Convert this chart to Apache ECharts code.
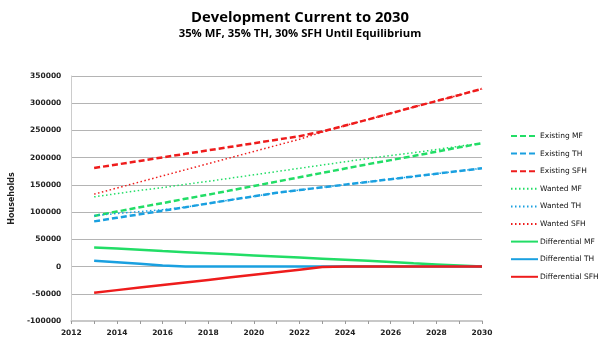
<!DOCTYPE html>
<html><head><meta charset="utf-8">
<script src="https://cdn.jsdelivr.net/npm/echarts@6/dist/echarts.min.js"></script>
<style>html,body{margin:0;padding:0;background:#fff}#c{width:600px;height:342px}</style>
</head><body><div id="c"></div>
<script>
const years = [2013,2014,2015,2016,2017,2018,2019,2020,2021,2022,2023,2024,2025,2026,2027,2028,2029,2030];
const existingMF = [93000,101000,109000,116500,124500,132000,140000,148000,156000,164000,172000,180000,188000,195500,203000,211000,219000,226500];
const existingTH = [83000,89500,96000,102500,109000,116000,122500,129000,135500,140500,145500,150500,155500,160500,165500,170500,175500,180500];
const existingSFH = [181000,187500,194000,200500,207000,213500,220000,226500,233000,239500,248000,259000,270000,281500,293000,304000,315000,326500];
const wantedMF = [128000,134000,140000,145000,151000,156500,162500,168500,174500,180500,186500,192500,198500,204000,209000,215000,221000,226500];
const wantedTH = [93500,97500,101000,104500,109000,116000,122500,129000,135500,140500,145500,150500,155500,160500,165500,170500,175500,180500];
const wantedSFH = [133000,144200,155400,166600,177800,189000,200200,211400,222600,233800,247000,259000,270000,281500,293000,304000,315000,326500];
const diffMF = [35000,33000,31000,28500,26500,24500,22500,20500,18500,16500,14500,12500,10500,8500,6000,4000,2000,0];
const diffTH = [10500,8000,5000,2000,0,0,0,0,0,0,0,0,0,0,0,0,0,0];
const diffSFH = [-48000,-43300,-38600,-33900,-29200,-24500,-19800,-15100,-10400,-5700,-1000,0,0,0,0,0,0,0];
const yTicks = {min:-100000, max:350000, interval:50000};
const xTicks = {min:2012, max:2030, interval:2};

const G='#22dd66', B='#1aa0e0', R='#ee1c1c';
function pts(v){ return years.map((y,i)=>[y,v[i]]); }
function ser(name, v, color, kind){
  const ls = {color:color};
  if(kind==='dash'){ ls.width=2.5; ls.type=[6,3]; }
  else if(kind==='dot'){ ls.width=1.5; ls.type=[1.5,2.5]; }
  else { ls.width=2.5; ls.type='solid'; }
  return {name:name, type:'line', data:pts(v), symbol:'none', showSymbol:false, itemStyle:{color:color}, lineStyle:ls, z: kind==='solid'?3:(kind==='dot'?4:2), animation:false};
}
const chart = echarts.init(document.getElementById('c'), null, {renderer:'canvas'});
const lab = {fontFamily:'DejaVu Sans', fontSize:7.5, color:'#222', fontWeight:'bold'};
chart.setOption({
  animation:false,
  title:{text:'Development Current to 2030', subtext:'35% MF, 35% TH, 30% SFH Until Equilibrium', left:'center', top:5,
    textStyle:{fontFamily:'Open Sans', fontWeight:'bold', fontSize:14.8, color:'#000'},
    subtextStyle:{fontFamily:'Open Sans', fontWeight:'bold', fontSize:11.3, color:'#000'}, itemGap:3},
  grid:{left:64, right:118, top:76, bottom:21, containLabel:false},
  legend:{orient:'vertical', left:505, top:127, itemWidth:27, itemHeight:8, itemGap:9.6,
    itemStyle:{opacity:0, borderWidth:0},
    textStyle:{fontFamily:'DejaVu Sans', fontSize:7.5, color:'#111', padding:[0,0,0,-3]},
    data:['Existing MF','Existing TH','Existing SFH','Wanted MF','Wanted TH','Wanted SFH','Differential MF','Differential TH','Differential SFH']},
  xAxis:[
    {type:'value', min:xTicks.min, max:xTicks.max, interval:xTicks.interval,
      axisLine:{show:false}, axisTick:{show:false}, splitLine:{show:false},
      axisLabel:Object.assign({margin:8, formatter:v=>String(v)}, lab)},
    {type:'value', min:xTicks.min, max:xTicks.max, interval:1, position:'bottom',
      axisLine:{show:true, onZero:true, lineStyle:{color:'#c8c8c8', width:2}},
      axisTick:{show:true, length:3, lineStyle:{color:'#999'}}, axisLabel:{show:false}, splitLine:{show:false}}
  ],
  yAxis:{type:'value', min:yTicks.min, max:yTicks.max, interval:yTicks.interval,
    name:'Households', nameLocation:'middle', nameGap:47, nameRotate:90,
    nameTextStyle:{fontFamily:'DejaVu Sans', fontSize:8, fontWeight:'bold', color:'#222'},
    axisLine:{show:true, lineStyle:{color:'#ccc'}}, axisTick:{show:false},
    splitLine:{lineStyle:{color:'#b4b4b4', width:1}},
    axisLabel:Object.assign({margin:10, formatter:v=>String(v)}, lab)},
  series:[
    ser('Existing MF', existingMF, G, 'dash'),
    ser('Existing TH', existingTH, B, 'dash'),
    ser('Existing SFH', existingSFH, R, 'dash'),
    ser('Wanted MF', wantedMF, G, 'dot'),
    ser('Wanted TH', wantedTH, B, 'dot'),
    ser('Wanted SFH', wantedSFH, R, 'dot'),
    ser('Differential MF', diffMF, G, 'solid'),
    ser('Differential TH', diffTH, B, 'solid'),
    ser('Differential SFH', diffSFH, R, 'solid')
  ]
});
</script></body></html>
